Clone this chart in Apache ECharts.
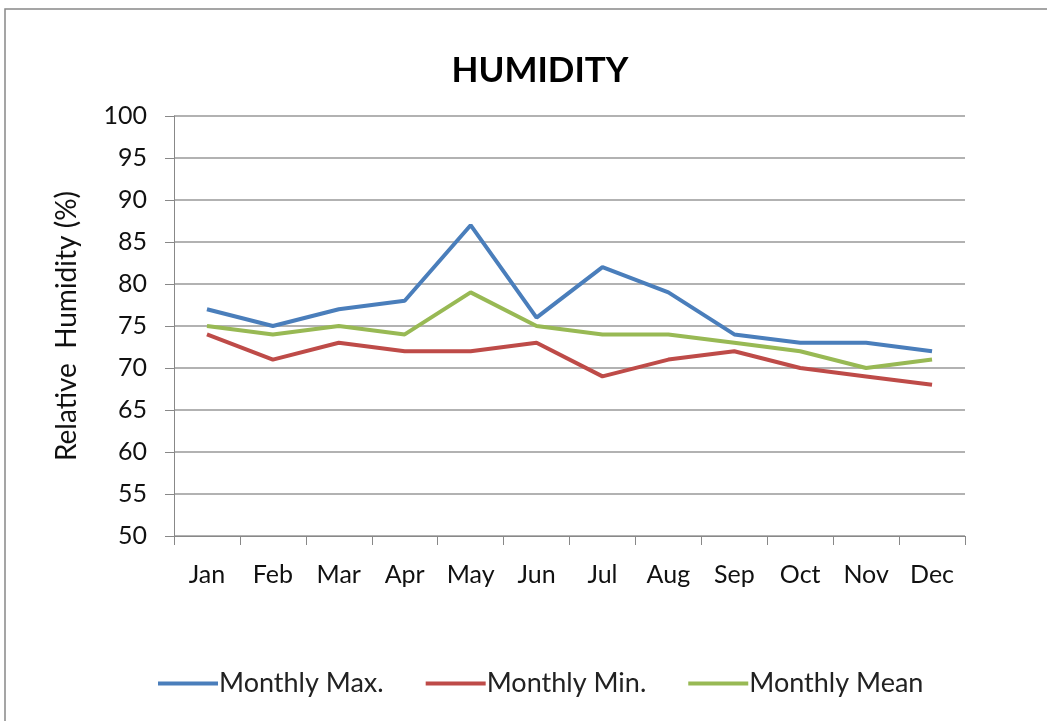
<!DOCTYPE html>
<html><head><meta charset="utf-8">
<style>html,body{margin:0;padding:0;background:#fff}#c{width:1047px;height:721px}</style>
<script src="https://cdn.jsdelivr.net/npm/echarts@6/dist/echarts.min.js"></script>
</head><body><div id="c"></div>
<script>
const months = ['Jan','Feb','Mar','Apr','May','Jun','Jul','Aug','Sep','Oct','Nov','Dec'];
const monthlyMax = [77,75,77,78,87,76,82,79,74,73,73,72];
const monthlyMin = [74,71,73,72,72,73,69,71,72,70,69,68];
const monthlyMean = [75,74,75,74,79,75,74,74,73,72,70,71];
const seriesNames = ['Monthly Max.','Monthly Min.','Monthly Mean'];
const colors = ['#4A7EBB','#BE4B48','#98B954'];
const font = 'Lato, "Liberation Sans", Arial, sans-serif';
const chart = echarts.init(document.getElementById('c'));
const mk = (name, data, color) => ({
  name, type:'line', data, symbol:'none', smooth:false,
  lineStyle:{color, width:4}, itemStyle:{color}
});
chart.setOption({
  animation:false,
  graphic:[{type:'rect', shape:{x:5,y:9,width:1100,height:800}, style:{fill:'none',stroke:'#888',lineWidth:1.5}}],
  title:{text:'HUMIDITY', left:535, top:48, textAlign:'center',
    textStyle:{fontFamily:font, fontSize:35, fontWeight:'bold', color:'#000'}},
  grid:{left:174, right:82, top:116, bottom:185},
  legend:{bottom:19, left:153, itemWidth:60, itemHeight:4, itemGap:42,
    icon:'rect',
    textStyle:{fontFamily:font, fontSize:27, color:'#222', padding:[0,0,0,-4]},
    data:seriesNames},
  xAxis:{type:'category', data:months, boundaryGap:true,
    axisLine:{lineStyle:{color:'#888', width:1}},
    axisTick:{show:true, length:9, lineStyle:{color:'#888'}},
    axisLabel:{fontFamily:font, fontSize:25, color:'#111', margin:26}},
  yAxis:{type:'value', min:50, max:100, interval:5,
    name:'Relative  Humidity (%)', nameLocation:'middle', nameGap:93,
    nameTextStyle:{fontFamily:font, fontSize:28, color:'#111'},
    axisLine:{show:true, lineStyle:{color:'#888'}},
    axisTick:{show:true, length:9, lineStyle:{color:'#888'}},
    axisLabel:{fontFamily:font, fontSize:25, color:'#111', margin:27},
    splitLine:{show:true, lineStyle:{color:'#999', width:1.5}}},
  series:[mk(seriesNames[0], monthlyMax, colors[0]), mk(seriesNames[1], monthlyMin, colors[1]), mk(seriesNames[2], monthlyMean, colors[2])]
});
</script></body></html>
